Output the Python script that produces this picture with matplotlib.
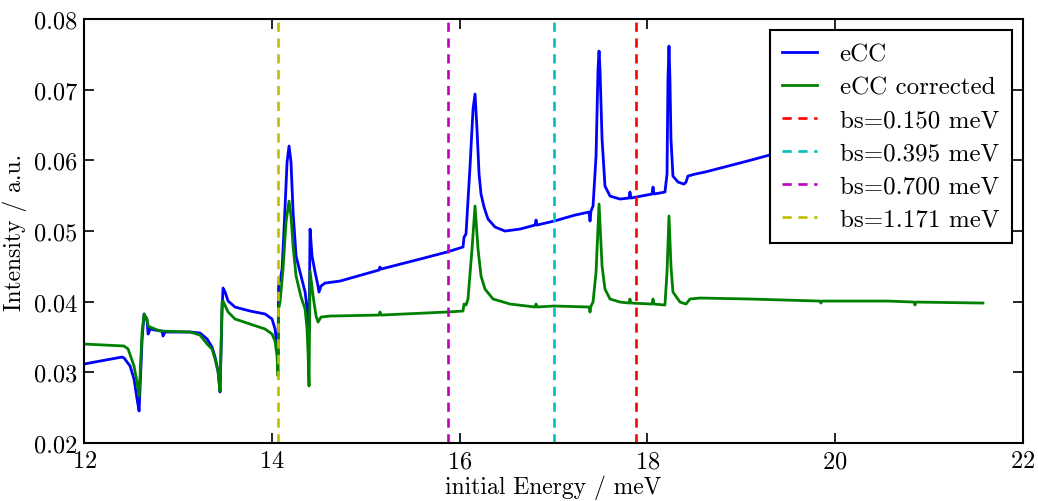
import matplotlib
matplotlib.use("Agg")
import matplotlib.pyplot as plt

plt.rcParams['font.family'] = ['cmr10', 'DejaVu Serif']
plt.rcParams['axes.formatter.use_mathtext'] = True
plt.rcParams['mathtext.fontset'] = 'cm'

# eCC (blue)
ecc_e = [12.000, 12.170, 12.405, 12.426, 12.490, 12.532, 12.564, 12.586, 12.618, 12.639,
         12.671, 12.682, 12.703, 12.756, 12.831, 12.841, 12.863, 13.129, 13.235, 13.310,
         13.363, 13.395, 13.427, 13.448, 13.470, 13.480, 13.502, 13.534, 13.608, 13.768,
         13.928, 14.002, 14.034, 14.055, 14.066, 14.072, 14.087, 14.109, 14.130, 14.162,
         14.183, 14.204, 14.226, 14.258, 14.311, 14.354, 14.386, 14.396, 14.407, 14.428,
         14.460, 14.492, 14.502, 14.524, 14.566, 14.726, 15.141, 15.152, 15.163, 15.578,
         15.865, 16.036, 16.047, 16.068, 16.111, 16.143, 16.164, 16.185, 16.207, 16.228,
         16.260, 16.302, 16.377, 16.483, 16.643, 16.803, 16.814, 16.824, 17.005, 17.229,
         17.378, 17.389, 17.399, 17.421, 17.453, 17.474, 17.485, 17.495, 17.517, 17.548,
         17.602, 17.708, 17.804, 17.814, 17.825, 18.049, 18.060, 18.070, 18.187, 18.209,
         18.219, 18.230, 18.240, 18.251, 18.272, 18.326, 18.390, 18.411, 18.432, 18.507,
         18.613, 19.092, 19.338, 20.158, 21.574]
ecc_i = [0.03118, 0.03160, 0.03217, 0.03203, 0.03090, 0.02906, 0.02623, 0.02453, 0.03472, 0.03826,
         0.03726, 0.03542, 0.03613, 0.03599, 0.03585, 0.03514, 0.03571, 0.03571, 0.03557, 0.03472,
         0.03358, 0.03217, 0.03019, 0.02722, 0.03896, 0.04193, 0.04137, 0.04009, 0.03924, 0.03868,
         0.03826, 0.03755, 0.03613, 0.03373, 0.03259, 0.04278, 0.04292, 0.04462, 0.05028, 0.05976,
         0.06203, 0.05976, 0.05269, 0.04646, 0.04363, 0.04137, 0.03797, 0.03571, 0.05028, 0.04646,
         0.04420, 0.04222, 0.04137, 0.04222, 0.04264, 0.04292, 0.04448, 0.04490, 0.04462, 0.04603,
         0.04703, 0.04774, 0.04915, 0.04958, 0.05920, 0.06726, 0.06939, 0.06443, 0.05806, 0.05523,
         0.05340, 0.05170, 0.05057, 0.05000, 0.05028, 0.05085, 0.05156, 0.05085, 0.05141, 0.05226,
         0.05269, 0.05141, 0.05283, 0.05354, 0.06061, 0.07292, 0.07547, 0.07292, 0.06302, 0.05637,
         0.05495, 0.05453, 0.05467, 0.05552, 0.05467, 0.05524, 0.05622, 0.05524, 0.05552, 0.05806,
         0.07151, 0.07618, 0.07151, 0.06302, 0.05778, 0.05693, 0.05665, 0.05693, 0.05778, 0.05806,
         0.05835, 0.06000, 0.06089, 0.06373, 0.06868]

# eCC corrected (green)
corr_e = [12.000, 12.426, 12.469, 12.532, 12.564, 12.586, 12.618, 12.639, 12.671, 12.682,
          12.703, 12.809, 13.129, 13.235, 13.310, 13.363, 13.395, 13.427, 13.448, 13.470,
          13.480, 13.534, 13.608, 13.768, 13.928, 14.002, 14.034, 14.055, 14.066, 14.071,
          14.087, 14.119, 14.151, 14.183, 14.204, 14.226, 14.258, 14.311, 14.354, 14.375,
          14.386, 14.396, 14.407, 14.439, 14.471, 14.492, 14.524, 14.620, 15.141, 15.152,
          15.163, 15.865, 16.036, 16.047, 16.068, 16.089, 16.132, 16.164, 16.196, 16.228,
          16.270, 16.356, 16.537, 16.803, 16.814, 16.824, 17.005, 17.378, 17.389, 17.399,
          17.421, 17.453, 17.485, 17.517, 17.548, 17.602, 17.708, 17.804, 17.814, 17.825,
          18.049, 18.060, 18.070, 18.187, 18.209, 18.230, 18.251, 18.272, 18.347, 18.411,
          18.454, 18.560, 19.092, 19.838, 19.848, 19.858, 20.562, 20.839, 20.850, 20.860,
          21.574]
corr_i = [0.03401, 0.03373, 0.03330, 0.03090, 0.02863, 0.02665, 0.03571, 0.03826, 0.03755, 0.03656,
          0.03641, 0.03585, 0.03571, 0.03528, 0.03401, 0.03330, 0.03189, 0.03005, 0.02736, 0.03995,
          0.04009, 0.03854, 0.03755, 0.03684, 0.03613, 0.03542, 0.03443, 0.03231, 0.02948, 0.03896,
          0.03995, 0.04462, 0.05127, 0.05424, 0.05212, 0.04788, 0.04363, 0.04066, 0.03896, 0.03613,
          0.03259, 0.02807, 0.04434, 0.04080, 0.03797, 0.03712, 0.03783, 0.03797, 0.03811, 0.03854,
          0.03811, 0.03854, 0.03868, 0.03967, 0.03953, 0.04038, 0.04745, 0.05354, 0.04745, 0.04363,
          0.04179, 0.04038, 0.03967, 0.03925, 0.03967, 0.03925, 0.03939, 0.03925, 0.03854, 0.03939,
          0.03995, 0.04420, 0.05382, 0.04505, 0.04179, 0.04038, 0.03995, 0.03981, 0.04038, 0.03981,
          0.03967, 0.04038, 0.03967, 0.03953, 0.04420, 0.05212, 0.04505, 0.04137, 0.03995, 0.03967,
          0.04038, 0.04052, 0.04038, 0.04009, 0.03981, 0.04009, 0.04009, 0.03995, 0.03953, 0.03995,
          0.03981]

# bin sizes and the positions of the dashed markers
bs_labels = ["bs=0.150 meV", "bs=0.395 meV", "bs=0.700 meV", "bs=1.171 meV"]
bs_pos = [17.88, 17.005, 15.876, 14.066]
bs_colors = ['r', 'c', 'm', 'y']

fig = plt.figure(figsize=(10.38, 5.02), dpi=100, facecolor='white')
ax = fig.add_axes([0.081, 0.1155, 0.9045, 0.8445])

ax.plot(ecc_e, ecc_i, color='b', lw=2.0, label="eCC")
ax.plot(corr_e, corr_i, color='g', lw=2.0, label="eCC corrected")
for x, lab, c in zip(bs_pos, bs_labels, bs_colors):
    ax.axvline(x, color=c, ls='--', lw=1.9, dashes=(3.5, 2.5), label=lab)

ax.set_xlim(12, 22)
ax.set_ylim(0.02, 0.08)
ax.set_xticks([12, 14, 16, 18, 20, 22])
ax.set_yticks([0.02, 0.03, 0.04, 0.05, 0.06, 0.07, 0.08])
ax.set_yticklabels(["0.02", "0.03", "0.04", "0.05", "0.06", "0.07", "0.08"])
ax.tick_params(direction='in', top=True, right=True, length=7, width=1.2,
               labelsize=17.5, pad=5)
for s in ax.spines.values():
    s.set_linewidth(1.5)

ax.set_xlabel("initial Energy / meV", fontsize=17, labelpad=2)
ax.set_ylabel("Intensity / a.u.", fontsize=17, labelpad=5)

leg = ax.legend(loc='upper right', fontsize=18, fancybox=False, handlelength=1.4,
                handletextpad=0.9, borderaxespad=0.45, labelspacing=0.42,
                borderpad=0.5)
leg.get_frame().set_edgecolor('black')
leg.get_frame().set_linewidth(1.5)
leg.get_frame().set_alpha(1)

fig.savefig("out.png", dpi=100, facecolor='white')
